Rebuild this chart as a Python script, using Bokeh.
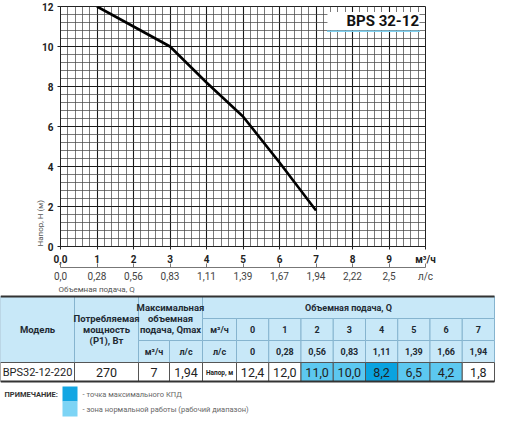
from bokeh.plotting import figure
from bokeh.models import (Range1d, LinearAxis, FixedTicker, Title, Legend, LegendItem,
                          ColumnDataSource, BoxAnnotation)
from bokeh.core.properties import value
from bokeh.embed import file_html
from bokeh.resources import INLINE

# ---------------- data ----------------
legend_label = "BPS 32-12"
model_name = "BPS32-12-220"
power_w = "270"
qmax_m3h = "7"
qmax_ls = "1,94"
flow_m3h = [0, 1, 2, 3, 4, 5, 6, 7]
flow_ls = ["0", "0,28", "0,56", "0,83", "1,11", "1,39", "1,66", "1,94"]
head_m = [12.4, 12.0, 11.0, 10.0, 8.2, 6.5, 4.2, 1.8]
working_flows = [2, 3, 4, 5, 6]
best_flow = 4

x_ticks = [0, 1, 2, 3, 4, 5, 6, 7, 8, 9, 10]
x_tick_labels = ["0,0", "1", "2", "3", "4", "5", "6", "7", "8", "9", "м³/ч"]
ls_tick_labels = ["0,0", "0,28", "0,56", "0,83", "1,11", "1,39", "1,67", "1,94", "2,22", "2,5", "л/с"]
y_ticks = [0, 2, 4, 6, 8, 10, 12]
y_axis_title = "Напор, H (м)"
x_axis_title = "Объемная подача, Q"

FONT = "Roboto"
X_MAX, Y_MAX = 10, 12

# ---------------- chart ----------------
p = figure(width=496, height=284, x_range=Range1d(0, X_MAX), y_range=Range1d(0, Y_MAX),
           output_backend="svg", toolbar_location=None,
           min_border_left=60, min_border_right=71, min_border_top=6, min_border_bottom=38)
p.outline_line_color = "#222"

xt = FixedTicker(ticks=x_ticks, minor_ticks=[k * 0.2 for k in range(51)])
yt = FixedTicker(ticks=y_ticks, minor_ticks=[k * 0.4 for k in range(31)])
xa = p.xaxis[0]
ya = p.yaxis[0]
xa.ticker = xt
ya.ticker = yt
p.xgrid.ticker = xt
p.ygrid.ticker = yt
xa.major_label_overrides = {t: lab for t, lab in zip(x_ticks, x_tick_labels)}
for ax in (xa, ya):
    ax.major_label_text_font = FONT
    ax.major_label_text_font_style = "bold"
    ax.major_label_text_font_size = "10px"
    ax.major_label_text_color = "#222"
    ax.major_tick_out = 3
    ax.major_tick_in = 0
    ax.minor_tick_line_color = None
    ax.axis_line_color = "#222"
    ax.major_tick_line_color = "#222"
    ax.major_label_standoff = 3

for g in (p.xgrid, p.ygrid):
    g.grid_line_color = "#1a1a1a"
    g.grid_line_width = 1.1
    g.minor_grid_line_color = "#444"
    g.minor_grid_line_alpha = 0.9
    g.minor_grid_line_width = 0.8

p.extra_x_ranges = {"ls": Range1d(0, X_MAX)}
ax2 = LinearAxis(x_range_name="ls", ticker=FixedTicker(ticks=x_ticks),
                 major_label_overrides={t: lab for t, lab in zip(x_ticks, ls_tick_labels)},
                 axis_line_color="#777", major_tick_line_color="#777",
                 major_tick_in=4, major_tick_out=0, minor_tick_line_color=None,
                 major_label_text_font=FONT, major_label_text_font_size="10px",
                 major_label_text_color="#444", major_label_standoff=3)
p.add_layout(ax2, "below")

cx = [q for q, h in zip(flow_m3h, head_m) if h <= Y_MAX]
cy = [h for h in head_m if h <= Y_MAX]
p.line(cx, cy, line_color="black", line_width=2.6)

p.add_layout(Title(text=y_axis_title, align="left", text_font=FONT, text_font_size="8px",
                   text_font_style="normal", text_color="#555", standoff=-10, offset=0), "left")

leg_r = p.quad(left=[], right=[], top=[], bottom=[], fill_color="#80d3f3", line_color=None)
legend = Legend(items=[LegendItem(label=legend_label, renderers=[leg_r])], location="top_right",
                label_text_font=FONT, label_text_font_style="bold", label_text_font_size="15px",
                label_text_color="#111", glyph_width=11, glyph_height=11, label_height=16,
                background_fill_color="white", background_fill_alpha=1.0,
                border_line_color=None, margin=6, padding=3, label_standoff=8, spacing=0)
p.add_layout(legend, "center")
p.add_layout(BoxAnnotation(left=7.3, right=9.85, top=10.8, bottom=10.72,
                           fill_color="#80d3f3", fill_alpha=1.0, line_color=None))

# ---------------- table ----------------
W2, H2 = 496, 136
t = figure(width=W2, height=H2, x_range=Range1d(0, W2), y_range=Range1d(H2, 0),
           output_backend="svg", toolbar_location=None, min_border=0,
           x_axis_location=None, y_axis_location=None)
t.outline_line_color = None
t.grid.visible = False

col_w = [74, 64, 31, 33, 34] + [32.25] * len(flow_m3h)
ce = [0]
for w in col_w:
    ce.append(ce[-1] + w)
re = [12, 34, 56, 78, 97]

HDR = "#c8e8f8"
HLINE = "#86b4cf"
hdr = dict(l=[], r=[], tp=[], b=[], txt=[], size=[])


def hcell(c0, c1, r0, r1, text, size="9px"):
    hdr["l"].append(ce[c0]); hdr["r"].append(ce[c1])
    hdr["tp"].append(re[r0]); hdr["b"].append(re[r1])
    hdr["txt"].append(text); hdr["size"].append(size)


hcell(0, 1, 0, 3, "Модель", "9.5px")
hcell(1, 2, 0, 3, "Потребляемая\nмощность\n(P1), Вт", "9.5px")
hcell(2, 4, 0, 2, "Максимальная\nобъемная\nподача, Qmax", "9.5px")
hcell(2, 3, 2, 3, "м³/ч")
hcell(3, 4, 2, 3, "л/с")
hcell(4, len(col_w), 0, 1, x_axis_title, "9px")
hcell(4, 5, 1, 2, "м³/ч")
hcell(4, 5, 2, 3, "л/с")
for i, (q, ls) in enumerate(zip(flow_m3h, flow_ls)):
    hcell(5 + i, 6 + i, 1, 2, str(q))
    hcell(5 + i, 6 + i, 2, 3, ls)

hs = ColumnDataSource(dict(l=hdr["l"], r=hdr["r"], tp=hdr["tp"], b=hdr["b"], txt=hdr["txt"],
                           size=hdr["size"],
                           cx=[(a + b) / 2 for a, b in zip(hdr["l"], hdr["r"])],
                           cy=[(a + b) / 2 for a, b in zip(hdr["tp"], hdr["b"])]))
t.quad(left="l", right="r", top="tp", bottom="b", source=hs, fill_color=HDR, line_color=HLINE, line_width=1)
t.text(x="cx", y="cy", text="txt", source=hs, text_align="center", text_baseline="middle",
       text_font=value(FONT), text_font_style="bold", text_font_size="size", text_color="#1e2a33",
       text_line_height=1.0)


def fmt(v):
    return ("%.1f" % v).replace(".", ",")


d_txt = [model_name, power_w, qmax_m3h, qmax_ls, "Напор, м"] + [fmt(h) for h in head_m]
d_fill = ["white"] * 5 + ["#0aa3e0" if q == best_flow else ("#5cc8f0" if q in working_flows else "white")
                          for q in flow_m3h]
d_l = ce[:-1]
d_r = ce[1:]
ds = ColumnDataSource(dict(l=d_l, r=d_r, tp=[re[3]] * len(d_l), b=[re[4]] * len(d_l), fill=d_fill,
                           txt=d_txt, cx=[(a + b) / 2 for a, b in zip(d_l, d_r)],
                           cy=[(re[3] + re[4]) / 2 + 0.5] * len(d_l),
                           size=["11px"] + ["12.5px"] * 3 + ["6.5px"] + ["12.5px"] * len(head_m),
                           style=["normal"] * 4 + ["bold"] + ["normal"] * len(head_m)))
t.quad(left="l", right="r", top="tp", bottom="b", source=ds, fill_color="fill", line_color="#555", line_width=1)
t.text(x="cx", y="cy", text="txt", source=ds, text_align="center", text_baseline="middle",
       text_font=value(FONT), text_font_size="size", text_font_style="style", text_color="#222")

t.segment(x0=[ce[0], ce[0]], x1=[ce[-1], ce[-1]], y0=[re[0], re[4]], y1=[re[0], re[4]],
          line_color="#333", line_width=2)

t.text(x=[58], y=[4.5], text=[x_axis_title], text_align="left", text_baseline="middle",
       text_font=value(FONT), text_font_size="8px", text_color="#555")

notes = ["- точка максимального КПД", "- зона нормальной работы (рабочий диапазон)"]
note_colors = ["#13a6e3", "#7dd4f5"]
n_top = [102, 117]
n_bot = [117, 132]
t.quad(left=[62, 62], right=[77, 77], top=n_top, bottom=n_bot, fill_color=note_colors, line_color=None)
t.text(x=[82, 82], y=[(a + b) / 2 for a, b in zip(n_top, n_bot)], text=notes, text_align="left",
       text_baseline="middle", text_font=value(FONT), text_font_size="7.5px", text_color="#666")
t.text(x=[4], y=[109.5], text=["ПРИМЕЧАНИЕ:"], text_align="left", text_baseline="middle",
       text_font=value(FONT), text_font_style="bold", text_font_size="7.5px", text_color="#333")

open("out.html", "w").write(file_html([p, t], INLINE))
